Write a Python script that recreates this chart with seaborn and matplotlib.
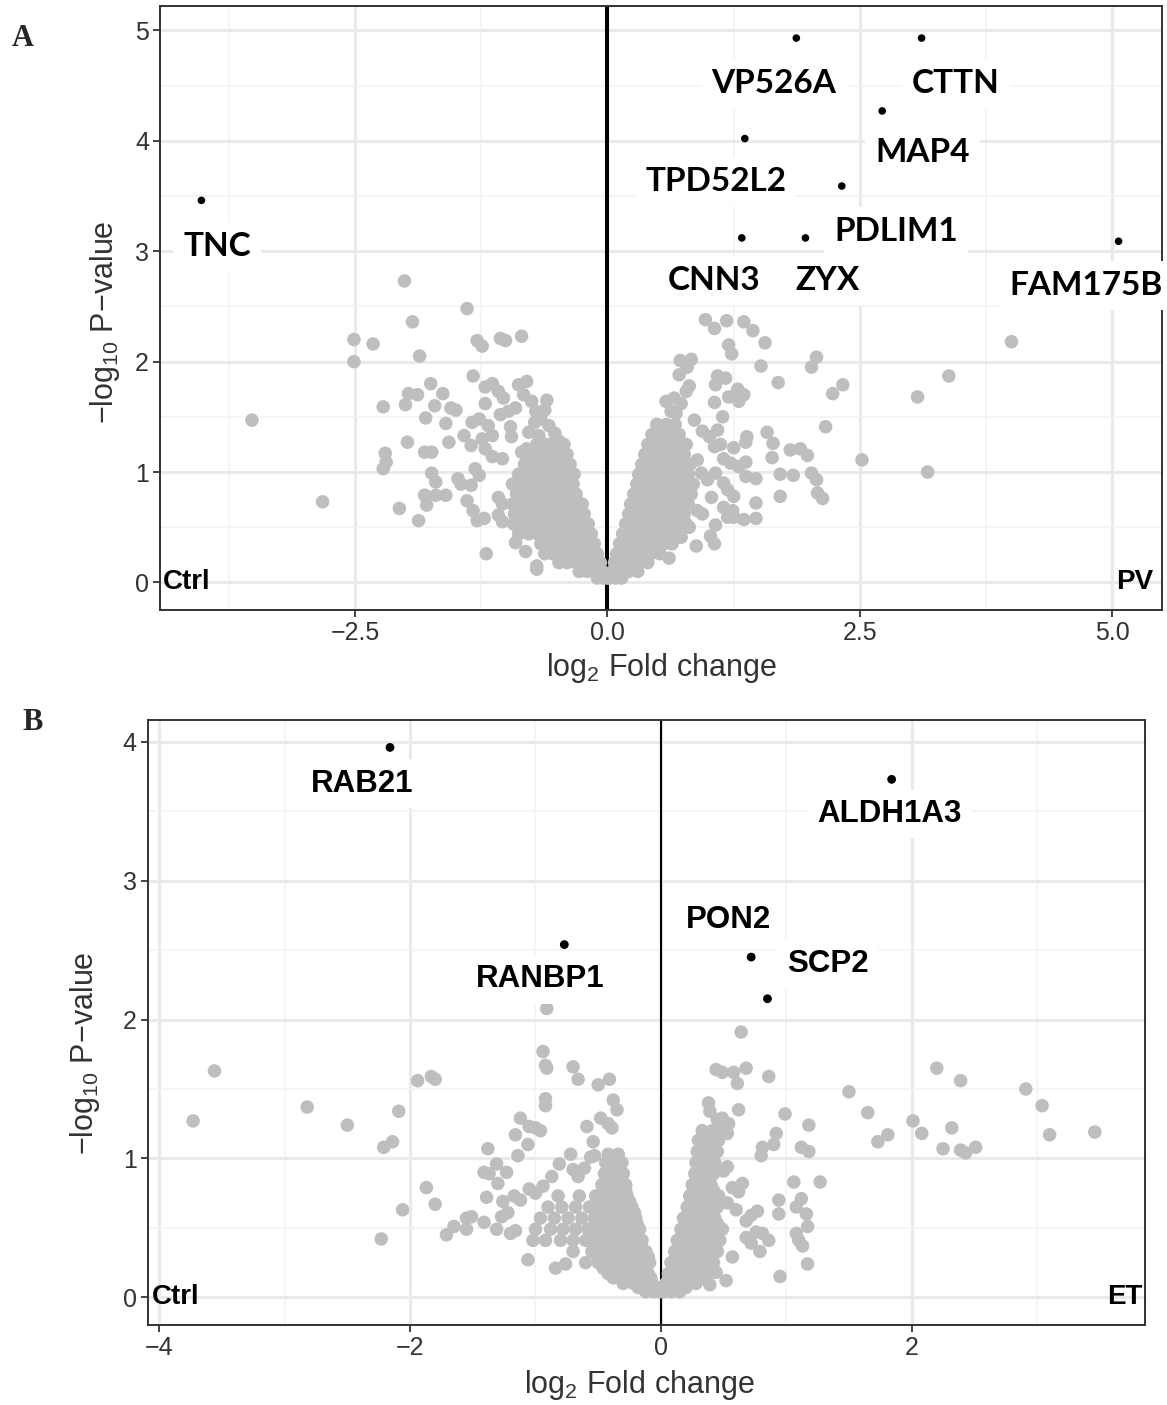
import pandas as pd
import seaborn as sns
import matplotlib.pyplot as plt

# ============================================================
# PANEL A  (Ctrl vs PV)
# ============================================================
a_genes = ["TNC", "VP526A", "CTTN", "MAP4", "TPD52L2", "PDLIM1", "CNN3", "ZYX", "FAM175B"]
a_gene_x = [-4.02, 1.87, 3.11, 2.72, 1.36, 2.32, 1.33, 1.96, 5.06]
a_gene_y = [3.46, 4.93, 4.93, 4.27, 4.02, 3.59, 3.12, 3.12, 3.09]
a_label_x = [-3.86, 1.65, 3.45, 3.12, 1.07, 2.86, 1.06, 2.18, 4.74]
a_label_y = [3.04, 4.52, 4.52, 3.89, 3.63, 3.18, 2.73, 2.73, 2.69]

# scattered grey points, left side (x, y)
a_left_sparse = [
    (-3.52, 1.47), (-2.82, 0.73), (-2.51, 2.20), (-2.51, 2.00), (-2.32, 2.16), (-2.01, 2.73),
    (-1.93, 2.36), (-1.86, 2.05), (-1.39, 2.48), (-1.29, 2.19), (-1.24, 2.14), (-1.06, 2.21),
    (-1.01, 2.19), (-0.85, 2.23), (-2.22, 1.59), (-2.20, 1.17), (-2.19, 1.09), (-2.22, 1.03),
    (-2.06, 0.67), (-1.33, 1.87), (-1.75, 1.80), (-1.97, 1.71), (-1.88, 1.70), (-1.63, 1.71),
    (-2.00, 1.61), (-1.71, 1.60), (-1.80, 1.49), (-1.55, 1.58), (-1.50, 1.56), (-1.60, 1.44),
    (-1.98, 1.27), (-1.57, 1.27), (-1.81, 1.18), (-1.74, 1.18), (-1.74, 0.99), (-1.70, 0.91),
    (-1.81, 0.79), (-1.70, 0.79), (-1.60, 0.79), (-1.79, 0.70), (-1.87, 0.56), (-1.48, 0.94),
    (-1.45, 0.89), (-1.35, 0.88), (-1.39, 0.74), (-1.33, 0.65), (-1.29, 0.56), (-1.22, 0.58),
    (-1.20, 0.26), (-1.31, 1.03), (-1.27, 0.97), (-1.21, 1.77), (-1.14, 1.80), (-1.08, 1.73),
    (-1.03, 1.67), (-0.88, 1.79), (-0.80, 1.82), (-0.83, 1.70), (-0.75, 1.64), (-0.60, 1.65),
    (-1.21, 1.62), (-1.06, 1.52), (-0.98, 1.55), (-0.91, 1.58), (-1.34, 1.45), (-1.27, 1.48),
    (-1.18, 1.42), (-0.96, 1.41), (-0.95, 1.32), (-1.42, 1.33), (-1.35, 1.24), (-1.24, 1.30),
    (-1.14, 1.33), (-1.21, 1.21), (-1.14, 1.14), (-1.04, 1.12), (-0.71, 1.55), (-0.66, 1.48),
    (-0.62, 1.56), (-0.78, 1.36), (-0.68, 1.33), (-0.52, 1.35), (-0.80, 1.21), (-0.85, 1.18),
    (-1.08, 0.77), (-1.04, 0.71), (-1.08, 0.61), (-1.04, 0.55), (-0.91, 0.36), (-0.81, 0.28),
    (-0.70, 0.15), (-0.70, 0.12), (-0.72, 1.45), (-0.58, 1.42), (-0.55, 1.25), (-0.48, 1.28),
]

# dense left wing of the V: (y, [x values])
a_left_dense = [
    (0.04, [-0.10, -0.04, 0.00]),
    (0.10, [-0.28, -0.20, -0.12, -0.05]),
    (0.18, [-0.48, -0.40, -0.31, -0.22, -0.14, -0.07]),
    (0.26, [-0.62, -0.54, -0.45, -0.36, -0.27, -0.18, -0.10]),
    (0.35, [-0.66, -0.57, -0.48, -0.39, -0.30, -0.21, -0.13]),
    (0.44, [-0.88, -0.78, -0.69, -0.60, -0.51, -0.42, -0.33, -0.24, -0.16]),
    (0.53, [-0.93, -0.84, -0.74, -0.64, -0.55, -0.46, -0.37, -0.28, -0.19]),
    (0.62, [-0.92, -0.82, -0.71, -0.60, -0.51, -0.42, -0.33, -0.23]),
    (0.71, [-0.94, -0.84, -0.74, -0.64, -0.55, -0.46, -0.37, -0.28, -0.25]),
    (0.80, [-0.90, -0.79, -0.68, -0.58, -0.49, -0.40, -0.31]),
    (0.89, [-0.94, -0.83, -0.72, -0.62, -0.52, -0.43, -0.34]),
    (0.98, [-0.88, -0.77, -0.66, -0.56, -0.47, -0.38, -0.33]),
    (1.07, [-0.82, -0.71, -0.61, -0.52, -0.44, -0.37]),
    (1.16, [-0.75, -0.65, -0.55, -0.47, -0.40]),
    (1.25, [-0.70, -0.60, -0.50, -0.43]),
]

a_right_sparse = [
    (0.97, 2.38), (1.06, 2.30), (1.18, 2.37), (1.35, 2.36), (1.44, 2.28), (1.56, 2.17),
    (1.20, 2.15), (1.23, 2.07), (0.72, 2.01), (0.83, 2.02), (0.79, 1.95), (0.71, 1.88),
    (1.52, 1.96), (1.69, 1.81), (2.07, 2.04), (2.02, 1.95), (2.33, 1.79), (2.23, 1.71),
    (1.09, 1.87), (1.17, 1.85), (1.07, 1.79), (0.81, 1.78), (0.78, 1.73), (1.29, 1.75),
    (1.35, 1.70), (1.30, 1.64), (1.20, 1.68), (1.06, 1.63), (0.58, 1.64), (0.66, 1.67),
    (0.73, 1.62), (0.63, 1.55), (0.68, 1.53), (1.14, 1.50), (1.09, 1.38), (0.86, 1.47),
    (0.94, 1.37), (1.01, 1.32), (0.49, 1.43), (0.55, 1.35), (1.38, 1.32), (1.37, 1.27),
    (1.58, 1.36), (1.64, 1.26), (1.63, 1.13), (2.16, 1.41), (1.81, 1.20), (1.91, 1.21),
    (1.98, 1.15), (2.52, 1.11), (1.25, 1.22), (1.12, 1.25), (1.06, 1.23), (1.15, 1.12),
    (1.22, 1.08), (1.30, 1.05), (1.37, 1.09), (0.89, 1.11), (0.93, 0.99), (0.99, 0.93),
    (1.07, 0.99), (1.37, 0.96), (1.47, 0.94), (1.71, 0.98), (1.84, 0.97), (2.02, 0.99),
    (2.07, 0.93), (1.15, 0.90), (1.19, 0.84), (1.25, 0.78), (1.03, 0.77), (1.71, 0.78),
    (2.08, 0.81), (2.13, 0.76), (1.47, 0.72), (1.15, 0.68), (1.24, 0.65), (1.19, 0.59),
    (1.25, 0.59), (1.35, 0.57), (1.47, 0.58), (0.89, 0.65), (0.94, 0.62), (1.07, 0.52),
    (1.02, 0.42), (1.06, 0.35), (0.88, 0.33), (0.81, 0.50), (0.73, 0.41), (0.61, 0.22),
    (4.00, 2.18), (3.38, 1.87), (3.07, 1.68), (3.17, 1.00),
]

a_right_dense = [
    (0.04, [0.02, 0.08, 0.14]),
    (0.10, [0.05, 0.13, 0.21, 0.30]),
    (0.18, [0.07, 0.15, 0.23, 0.31, 0.40]),
    (0.26, [0.09, 0.17, 0.25, 0.34, 0.43, 0.52]),
    (0.35, [0.12, 0.20, 0.29, 0.38, 0.47, 0.56, 0.64]),
    (0.44, [0.15, 0.23, 0.32, 0.41, 0.50, 0.59, 0.68]),
    (0.53, [0.18, 0.26, 0.35, 0.44, 0.53, 0.62, 0.72, 0.78]),
    (0.62, [0.21, 0.29, 0.38, 0.47, 0.56, 0.66, 0.76]),
    (0.71, [0.23, 0.31, 0.40, 0.49, 0.58, 0.68, 0.80]),
    (0.80, [0.26, 0.34, 0.43, 0.52, 0.62, 0.72, 0.83]),
    (0.89, [0.29, 0.37, 0.46, 0.55, 0.65, 0.76, 0.85]),
    (0.98, [0.31, 0.40, 0.49, 0.59, 0.69, 0.80]),
    (1.07, [0.34, 0.43, 0.52, 0.62, 0.72, 0.82]),
    (1.16, [0.37, 0.46, 0.55, 0.65, 0.76]),
    (1.25, [0.40, 0.49, 0.58, 0.68, 0.78]),
    (1.34, [0.44, 0.53, 0.62, 0.71]),
    (1.43, [0.49, 0.58, 0.67]),
]

# ============================================================
# PANEL B  (Ctrl vs ET)
# ============================================================
b_genes = ["RAB21", "ALDH1A3", "RANBP1", "PON2", "SCP2"]
b_gene_x = [-2.16, 1.84, -0.77, 0.72, 0.85]
b_gene_y = [3.96, 3.73, 2.54, 2.45, 2.15]
b_label_x = [-2.38, 1.82, -0.96, 0.54, 1.33]
b_label_y = [3.70, 3.48, 2.29, 2.72, 2.40]

b_left_sparse = [
    (-3.56, 1.63), (-3.73, 1.27), (-2.82, 1.37), (-2.50, 1.24), (-2.09, 1.34), (-2.21, 1.08),
    (-2.14, 1.12), (-1.94, 1.56), (-1.83, 1.59), (-1.80, 1.57), (-1.87, 0.79), (-1.80, 0.67),
    (-2.06, 0.63), (-2.23, 0.42), (-0.91, 2.08), (-0.94, 1.77), (-0.92, 1.67), (-0.91, 1.65),
    (-0.70, 1.66), (-0.66, 1.57), (-0.50, 1.53), (-0.41, 1.57), (-0.92, 1.43), (-0.92, 1.38),
    (-0.38, 1.42), (-0.35, 1.35), (-1.12, 1.29), (-1.05, 1.23), (-1.00, 1.22), (-0.96, 1.20),
    (-1.16, 1.17), (-1.06, 1.10), (-1.14, 1.02), (-1.38, 1.07), (-0.59, 1.23), (-0.54, 1.12),
    (-0.48, 1.29), (-0.42, 1.25), (-0.39, 1.22), (-0.72, 1.03), (-0.56, 1.01), (-0.53, 1.02),
    (-1.31, 0.96), (-1.41, 0.90), (-1.37, 0.89), (-1.23, 0.90), (-1.30, 0.82), (-1.39, 0.72),
    (-1.26, 0.69), (-0.81, 0.96), (-0.87, 0.87), (-0.70, 0.92), (-0.66, 0.87), (-0.61, 0.93),
    (-1.51, 0.58), (-1.55, 0.57), (-1.65, 0.51), (-1.71, 0.45), (-1.55, 0.49), (-1.41, 0.54),
    (-1.31, 0.49), (-1.27, 0.58), (-1.22, 0.61), (-1.20, 0.46), (-1.16, 0.48), (-1.17, 0.73),
    (-1.12, 0.70), (-1.06, 0.27), (-0.84, 0.21), (-0.76, 0.24), (-1.05, 0.78), (-1.00, 0.75),
    (-0.94, 0.80),
]

b_left_dense = [
    (0.04, [-0.12, -0.06, -0.01]),
    (0.07, [-0.18, -0.10, -0.03]),
    (0.10, [-0.30, -0.22, -0.14, -0.07]),
    (0.14, [-0.38, -0.30, -0.22, -0.15, -0.08]),
    (0.17, [-0.42, -0.34, -0.26, -0.18, -0.10]),
    (0.21, [-0.46, -0.38, -0.30, -0.22, -0.13]),
    (0.25, [-0.60, -0.50, -0.41, -0.32, -0.24, -0.16, -0.09]),
    (0.29, [-0.50, -0.42, -0.33, -0.25, -0.17, -0.10]),
    (0.33, [-0.70, -0.55, -0.46, -0.37, -0.29, -0.21, -0.12]),
    (0.37, [-0.51, -0.42, -0.33, -0.25, -0.16]),
    (0.41, [-1.02, -0.92, -0.80, -0.70, -0.60, -0.51, -0.42, -0.33, -0.24, -0.15]),
    (0.45, [-0.53, -0.44, -0.35, -0.27, -0.19]),
    (0.49, [-1.00, -0.88, -0.78, -0.68, -0.58, -0.48, -0.39, -0.30, -0.22, -0.17]),
    (0.53, [-0.49, -0.40, -0.31, -0.24, -0.19]),
    (0.57, [-0.96, -0.85, -0.74, -0.63, -0.53, -0.44, -0.35, -0.27, -0.20]),
    (0.61, [-0.44, -0.35, -0.27, -0.21]),
    (0.65, [-0.90, -0.79, -0.68, -0.57, -0.48, -0.39, -0.31, -0.23]),
    (0.69, [-0.47, -0.39, -0.31, -0.25]),
    (0.73, [-0.82, -0.65, -0.52, -0.43, -0.35, -0.27]),
    (0.77, [-0.43, -0.35, -0.28]),
    (0.81, [-0.47, -0.39, -0.31, -0.28]),
    (0.85, [-0.41, -0.33]),
    (0.89, [-0.45, -0.37, -0.30]),
    (0.93, [-0.40, -0.33]),
    (0.97, [-0.44, -0.36, -0.31]),
    (1.03, [-0.42, -0.34]),
]

b_right_sparse = [
    (0.64, 1.91), (0.44, 1.64), (0.49, 1.62), (0.58, 1.62), (0.61, 1.54), (0.68, 1.65),
    (0.86, 1.59), (1.50, 1.48), (1.65, 1.33), (0.38, 1.40), (0.39, 1.34), (0.62, 1.35),
    (0.99, 1.32), (1.18, 1.24), (0.92, 1.18), (0.90, 1.10), (0.81, 1.08), (0.80, 1.02),
    (1.12, 1.08), (1.18, 1.05), (0.45, 1.28), (0.49, 1.29), (0.54, 1.25), (0.46, 1.19),
    (0.53, 1.18), (0.53, 0.94), (0.50, 0.91), (1.06, 0.83), (1.27, 0.83), (0.65, 0.82),
    (0.62, 0.76), (0.57, 0.79), (0.94, 0.70), (0.94, 0.60), (1.12, 0.71), (1.08, 0.65),
    (1.16, 0.60), (1.17, 0.51), (0.53, 0.68), (0.60, 0.63), (0.77, 0.62), (0.72, 0.59),
    (0.68, 0.55), (0.76, 0.47), (0.81, 0.46), (0.86, 0.41), (0.68, 0.43), (0.72, 0.39),
    (0.79, 0.33), (1.08, 0.46), (1.10, 0.41), (1.13, 0.37), (1.17, 0.24), (0.57, 0.29),
    (0.52, 0.12), (0.95, 0.15), (0.39, 0.09), (0.44, 0.18),
    (2.20, 1.65), (2.39, 1.56), (2.91, 1.50), (3.04, 1.38), (3.10, 1.17), (3.46, 1.19),
    (2.01, 1.27), (2.08, 1.18), (2.32, 1.22), (1.73, 1.12), (1.81, 1.17), (2.25, 1.07),
    (2.39, 1.06), (2.43, 1.04), (2.51, 1.08),
]

b_right_dense = [
    (0.04, [0.02, 0.08, 0.15]),
    (0.07, [0.05, 0.12, 0.20]),
    (0.10, [0.04, 0.11, 0.19, 0.28]),
    (0.14, [0.08, 0.16, 0.25, 0.33]),
    (0.17, [0.06, 0.13, 0.21, 0.30, 0.38]),
    (0.21, [0.10, 0.18, 0.27, 0.35]),
    (0.25, [0.08, 0.16, 0.24, 0.33, 0.42]),
    (0.29, [0.12, 0.20, 0.29, 0.38]),
    (0.33, [0.11, 0.19, 0.27, 0.36, 0.45]),
    (0.37, [0.15, 0.23, 0.32, 0.41]),
    (0.41, [0.13, 0.21, 0.29, 0.38, 0.47]),
    (0.45, [0.17, 0.26, 0.35, 0.44]),
    (0.49, [0.16, 0.24, 0.32, 0.41, 0.49]),
    (0.53, [0.20, 0.28, 0.37, 0.45]),
    (0.57, [0.18, 0.26, 0.34, 0.43]),
    (0.61, [0.22, 0.30, 0.39]),
    (0.65, [0.21, 0.28, 0.36, 0.45]),
    (0.69, [0.24, 0.33, 0.41]),
    (0.73, [0.23, 0.30, 0.38, 0.46]),
    (0.77, [0.26, 0.35, 0.42]),
    (0.81, [0.25, 0.32, 0.40]),
    (0.85, [0.28, 0.37]),
    (0.89, [0.27, 0.34, 0.42]),
    (0.93, [0.30, 0.39]),
    (0.97, [0.28, 0.35, 0.43]),
    (1.01, [0.31, 0.40]),
    (1.05, [0.29, 0.36, 0.45]),
    (1.09, [0.32, 0.41]),
    (1.13, [0.30, 0.37, 0.46]),
    (1.17, [0.35, 0.44]),
    (1.20, [0.33, 0.41, 0.50]),
]


def rows_to_points(rows):
    return [(x, y) for y, xs in rows for x in xs]


def grey_frame(*parts):
    pts = []
    for p in parts:
        pts += p
    return pd.DataFrame(pts, columns=["log2fc", "neglogp"])


a_grey = grey_frame(a_left_sparse, rows_to_points(a_left_dense),
                    a_right_sparse, rows_to_points(a_right_dense))
b_grey = grey_frame(b_left_sparse, rows_to_points(b_left_dense),
                    b_right_sparse, rows_to_points(b_right_dense))
a_hits = pd.DataFrame({"gene": a_genes, "log2fc": a_gene_x, "neglogp": a_gene_y})
b_hits = pd.DataFrame({"gene": b_genes, "log2fc": b_gene_x, "neglogp": b_gene_y})

# ============================================================
# STYLE
# ============================================================
sns.set_theme(style="white")
plt.rcParams["font.family"] = ["Liberation Sans", "DejaVu Sans"]
plt.rcParams["mathtext.fontset"] = "custom"
plt.rcParams["mathtext.rm"] = "Liberation Sans"
plt.rcParams["mathtext.it"] = "Liberation Sans:italic"
plt.rcParams["mathtext.bf"] = "Liberation Sans:bold"

GREY = "#BEBEBE"
TXT = "#333333"

fig = plt.figure(figsize=(11.67, 14.05), dpi=100)
ax_a = fig.add_axes([0.1371, 0.5658, 0.8586, 0.4299])
ax_b = fig.add_axes([0.1268, 0.0569, 0.8543, 0.4306])


def volcano(ax, grey, hits, lab_x, lab_y, xlim, ylim, xmaj, xmin, ymaj, ymin,
            zero_lw, grey_s, hit_s, lab_font, lab_size, left_tag, right_tag):
    ax.set_xlim(*xlim)
    ax.set_ylim(*ylim)
    ax.set_xticks(xmaj)
    ax.set_xticks(xmin, minor=True)
    ax.set_yticks(ymaj)
    ax.set_yticks(ymin, minor=True)
    ax.grid(which="major", color="#EAEAEA", lw=2.2)
    ax.grid(which="minor", color="#F2F2F2", lw=1.1)
    ax.set_axisbelow(True)
    for s in ax.spines.values():
        s.set_color("#333333")
        s.set_linewidth(1.4)
    ax.tick_params(which="major", length=5, width=1.3, color="#333333",
                   labelsize=18, labelcolor=TXT, pad=3, bottom=True, left=True)
    ax.tick_params(which="minor", length=0)

    ax.axvline(0, color="black", lw=zero_lw, zorder=1.5)
    sns.scatterplot(data=grey, x="log2fc", y="neglogp", color=GREY, s=grey_s,
                    edgecolor="none", linewidth=0, ax=ax, zorder=2, legend=False)
    sns.scatterplot(data=hits, x="log2fc", y="neglogp", color="black", s=hit_s,
                    edgecolor="none", linewidth=0, ax=ax, zorder=4, legend=False)
    for g, lx, ly in zip(hits["gene"], lab_x, lab_y):
        ax.text(lx, ly, g, ha="center", va="center", fontsize=lab_size,
                fontweight="bold", family=lab_font, color="black", zorder=5,
                bbox=dict(boxstyle="square,pad=0.3", fc="white", ec="none"))

    ax.text(left_tag[0], 0, "Ctrl", ha="left", va="center", fontsize=20,
            fontweight="bold", color="black", zorder=6)
    ax.text(right_tag[1], 0, right_tag[0], ha=right_tag[2], va="center", fontsize=20,
            fontweight="bold", color="black", zorder=6, clip_on=False)

    ax.set_xlabel("log$_{2}$ Fold change", fontsize=22, color=TXT, va="center")
    ax.set_ylabel("\u2212log$_{10}$ P\u2212value", fontsize=22, color=TXT, va="center")


volcano(ax_a, a_grey, a_hits, a_label_x, a_label_y,
        xlim=(-4.43, 5.49), ylim=(-0.25, 5.22),
        xmaj=[-2.5, 0.0, 2.5, 5.0], xmin=[-3.75, -1.25, 1.25, 3.75],
        ymaj=[0, 1, 2, 3, 4, 5], ymin=[0.5, 1.5, 2.5, 3.5, 4.5],
        zero_lw=2.9, grey_s=95, hit_s=30, lab_font=["Lato", "DejaVu Sans"], lab_size=24,
        left_tag=(-4.40,), right_tag=("PV", 5.04, "left"))
ax_a.set_xticklabels(["\u22122.5", "0.0", "2.5", "5.0"])
ax_a.xaxis.set_label_coords(0.5, -0.096)
ax_a.yaxis.set_label_coords(-0.055, 0.477)

volcano(ax_b, b_grey, b_hits, b_label_x, b_label_y,
        xlim=(-4.09, 3.86), ylim=(-0.2, 4.157),
        xmaj=[-4, -2, 0, 2], xmin=[-3, -1, 1, 3],
        ymaj=[0, 1, 2, 3, 4], ymin=[0.5, 1.5, 2.5, 3.5],
        zero_lw=1.5, grey_s=95, hit_s=40, lab_font=["Liberation Sans", "DejaVu Sans"],
        lab_size=22.5, left_tag=(-4.06,), right_tag=("ET", 3.84, "right"))
ax_b.set_xticklabels(["\u22124", "\u22122", "0", "2"])
ax_b.xaxis.set_label_coords(0.493, -0.099)
ax_b.yaxis.set_label_coords(-0.063, 0.45)

# panel letters
fig.text(23 / 1167, 1 - 39 / 1405, "A", fontsize=22, fontweight="bold",
         family="Liberation Serif", ha="center", va="center")
fig.text(33 / 1167, 1 - 723 / 1405, "B", fontsize=22, fontweight="bold",
         family="Liberation Serif", ha="center", va="center")

fig.savefig("out.png", dpi=100)
